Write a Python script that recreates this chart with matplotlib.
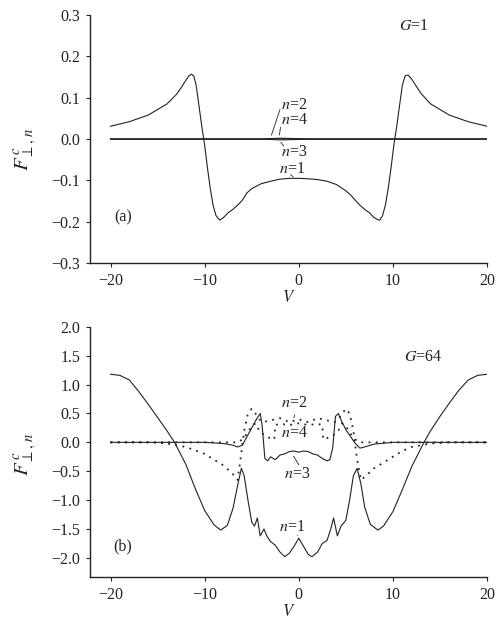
"""Transverse force components F^c_{perp,n} versus V for G=1 and G=64."""

import matplotlib

matplotlib.use("Agg")
from matplotlib import pyplot as plt

# ---- panel (a), G=1 ----
v_a1 = [-20, -18, -16, -14, -13, -12.5, -12, -11.7, -11.4, -11.15, -10.9, -10.6,
        -10.3, -10, -9.7, -9.4, -9.1, -8.8, -8.4, -8, -7.5, -7, -6.5, -6, -5.5,
        -5, -4, -3, -2, -1, 0, 1, 2, 3, 4, 5, 5.5, 6, 6.5, 7, 7.5, 8, 8.4, 8.6,
        8.9, 9.2, 9.5, 9.8, 10.1, 10.4, 10.7, 11.0, 11.3, 11.6, 12, 12.5, 13, 14,
        16, 18, 20]
f_a1 = [0.031, 0.042, 0.058, 0.085, 0.108, 0.124, 0.142, 0.152, 0.157, 0.152,
        0.13, 0.08, 0.03, -0.015, -0.07, -0.12, -0.16, -0.185, -0.196, -0.19,
        -0.178, -0.17, -0.16, -0.148, -0.13, -0.12, -0.108, -0.102, -0.097,
        -0.095, -0.095, -0.096, -0.098, -0.102, -0.11, -0.125, -0.135, -0.148,
        -0.16, -0.17, -0.178, -0.19, -0.195, -0.196, -0.185, -0.16, -0.12, -0.07,
        -0.015, 0.03, 0.08, 0.13, 0.153, 0.155, 0.145, 0.127, 0.11, 0.085,
        0.058, 0.042, 0.031]
v_a_flat = [-20, -4, -3, -2, 0, 2, 20]
f_a2 = [0, 0, 0.001, 0.002, 0.001, 0, 0]
f_a3 = [0, 0, -0.001, -0.002, -0.001, 0, 0]
f_a4 = [0, 0, 0.001, 0.001, 0, 0, 0]

# ---- panel (b), G=64 ----
v_b1 = [-20, -19, -18, -17, -16, -15, -14, -13.2, -12, -11, -10, -9, -8.3, -7.6,
        -7, -6.5, -6.1, -5.8, -5.4, -5.0, -4.7, -4.4, -4.1, -3.7, -3.4, -3.0,
        -2.5, -2.0, -1.5, -1.0, -0.5, 0, 0.5, 1.0, 1.4, 2.0, 2.5, 3.0, 3.4, 3.7,
        4.1, 4.5, 5.0, 5.4, 5.8, 6.2, 6.6, 7.0, 7.6, 8.4, 9, 10, 11, 12, 13.3,
        14, 15, 16, 17, 18, 19, 20]
f_b1 = [1.18, 1.16, 1.08, 0.88, 0.66, 0.43, 0.2, 0.0, -0.38, -0.8, -1.18, -1.43,
        -1.52, -1.44, -1.15, -0.75, -0.45, -0.58, -1.0, -1.38, -1.45, -1.31,
        -1.62, -1.5, -1.62, -1.72, -1.78, -1.9, -1.98, -1.92, -1.8, -1.66, -1.8,
        -1.94, -1.98, -1.9, -1.75, -1.7, -1.5, -1.31, -1.62, -1.45, -1.35, -1.0,
        -0.58, -0.45, -0.72, -1.12, -1.42, -1.52, -1.45, -1.2, -0.82, -0.42, 0.0,
        0.2, 0.45, 0.68, 0.9, 1.08, 1.16, 1.18]

v_b3 = [-20, -10, -8, -7, -6.5, -6.0, -5.5, -5.0, -4.5, -4.1, -3.9, -3.6, -3.3,
        -3.0, -2.5, -2.0, -1.5, -1, -0.5, 0, 0.5, 1, 1.5, 2, 2.5, 3.0, 3.3, 3.6,
        3.9, 4.2, 4.6, 5.0, 5.5, 6.0, 6.5, 7.0, 8, 10, 20]
f_b3 = [0, 0, -0.02, -0.05, -0.08, -0.05, 0.1, 0.25, 0.4, 0.5, 0.3, -0.28, -0.32,
        -0.25, -0.3, -0.22, -0.2, -0.16, -0.15, -0.17, -0.15, -0.16, -0.2, -0.22,
        -0.28, -0.32, -0.3, -0.1, 0.45, 0.5, 0.35, 0.22, 0.1, -0.02, -0.1, -0.08,
        -0.03, 0, 0]

v_b2 = [-20, -16, -14, -12, -10, -8, -7, -6.5, -6.2, -5.8, -5.4, -5.0, -4.6, -4.2,
        -3.8, -3, -2, -1, 0, 1, 2, 3, 3.8, 4.2, 4.6, 5.0, 5.4, 5.8, 6.2, 6.6, 7,
        8, 9, 10, 11, 12, 14, 16, 20]
f_b2 = [0, 0, -0.02, -0.08, -0.2, -0.4, -0.55, -0.65, -0.3, 0.2, 0.5, 0.58, 0.5,
        0.4, 0.35, 0.38, 0.42, 0.35, 0.4, 0.35, 0.42, 0.38, 0.35, 0.4, 0.5, 0.58,
        0.5, 0.2, -0.3, -0.65, -0.6, -0.45, -0.35, -0.25, -0.15, -0.08, -0.02,
        0, 0]

v_b4 = [-20, -8, -6.5, -6.0, -5.5, -5.0, -4.6, -4.2, -3.5, -2.6, -2.5, -2, -1, 0,
        1, 2, 2.5, 2.6, 3.5, 4.2, 4.6, 5.0, 5.5, 6.0, 6.5, 8, 20]
f_b4 = [0, 0, 0, 0.05, 0.15, 0.28, 0.33, 0.2, 0.1, 0.05, 0.3, 0.32, 0.3, 0.33,
        0.3, 0.32, 0.3, 0.05, 0.1, 0.2, 0.33, 0.28, 0.15, 0.05, 0, 0, 0]

x_ticks = [-20, -10, 0, 10, 20]
ya_ticks = [0.3, 0.2, 0.1, 0.0, -0.1, -0.2, -0.3]
yb_ticks = [2.0, 1.5, 1.0, 0.5, 0.0, -0.5, -1.0, -1.5, -2.0]

plt.rcParams["font.family"] = ["Liberation Serif", "DejaVu Serif"]
plt.rcParams["mathtext.fontset"] = "stix"

ink = "#222222"
fig = plt.figure(figsize=(4.99, 6.25), dpi=100)
ax_a = fig.add_axes([0.180, 0.579, 0.796, 0.397])
ax_b = fig.add_axes([0.180, 0.077, 0.796, 0.400])


def style(ax, ylim, yticks):
    ax.set_xlim(-22.2, 20)
    ax.set_ylim(*ylim)
    ax.set_xticks(x_ticks)
    ax.set_xticklabels([str(t).replace("-", "\u2212") for t in x_ticks])
    ax.set_yticks(yticks)
    ax.set_yticklabels([f"{t:.1f}".replace("-", "\u2212") for t in yticks])
    for side in ("top", "right"):
        ax.spines[side].set_visible(False)
    for side in ("left", "bottom"):
        ax.spines[side].set_linewidth(1.0)
        ax.spines[side].set_color(ink)
    ax.tick_params(direction="out", length=3, width=0.8, colors=ink,
                   labelsize=11.5, pad=4)
    ax.set_xlabel("$V$", fontsize=12, color=ink, labelpad=1)


line_kw = dict(color=ink, linewidth=0.8)
dot_kw = dict(color=ink, linewidth=1.3, linestyle=(0, (1, 3)))

# panel (a)
ax_a.plot(v_a_flat, f_a2, **line_kw)
ax_a.plot(v_a_flat, f_a3, **line_kw)
ax_a.plot(v_a_flat, f_a4, **line_kw)
ax_a.plot(v_a1, f_a1, **line_kw)
style(ax_a, (-0.3, 0.3), ya_ticks)
ax_a.set_ylabel(r"$F^{\,c}_{\perp,\,n}$", fontsize=15, color=ink)
ax_a.yaxis.set_label_coords(-0.13, 0.46)

lbl = dict(fontsize=11.5, color=ink, va="center", ha="left")
lead = dict(arrowstyle="-", lw=0.6, color=ink)
ax_a.text(12.2, 0.274, "$G$=1", ha="center", va="center", fontsize=11.5, color=ink)
ax_a.text(-18.7, -0.19, "(a)", ha="center", va="center", fontsize=11.5, color=ink)
ax_a.text(-1.9, 0.082, "$n$=2", **lbl)
ax_a.text(-1.9, 0.047, "$n$=4", **lbl)
ax_a.text(-1.9, -0.031, "$n$=3", **lbl)
ax_a.text(-2.1, -0.072, "$n$=1", **lbl)
ax_a.annotate("", xy=(-3.0, 0.003), xytext=(-1.9, 0.078), arrowprops=lead)
ax_a.annotate("", xy=(-2.1, 0.003), xytext=(-1.9, 0.035), arrowprops=lead)
ax_a.annotate("", xy=(-2.1, -0.003), xytext=(-1.4, -0.022), arrowprops=lead)
ax_a.annotate("", xy=(-0.35, -0.096), xytext=(-1.1, -0.082), arrowprops=lead)

# panel (b)
ax_b.plot(v_b2, f_b2, **dot_kw)
ax_b.plot(v_b4, f_b4, **dot_kw)
ax_b.plot(v_b3, f_b3, **line_kw)
ax_b.plot(v_b1, f_b1, **line_kw)
style(ax_b, (-2.33, 2.0), yb_ticks)
ax_b.set_ylabel(r"$F^{\,c}_{\perp,\,n}$", fontsize=15, color=ink)
ax_b.yaxis.set_label_coords(-0.13, 0.49)

ax_b.text(13.2, 1.48, "$G$=64", ha="center", va="center", fontsize=11.5, color=ink)
ax_b.text(-18.7, -1.8, "(b)", ha="center", va="center", fontsize=11.5, color=ink)
ax_b.text(-1.9, 0.69, "$n$=2", **lbl)
ax_b.text(-1.9, 0.155, "$n$=4", **lbl)
ax_b.text(-1.55, -0.55, "$n$=3", **lbl)
ax_b.text(-2.1, -1.47, "$n$=1", **lbl)
ax_b.annotate("", xy=(-0.6, 0.38), xytext=(-0.36, 0.52), arrowprops=lead)
ax_b.annotate("", xy=(-0.7, -0.2), xytext=(0.15, -0.43), arrowprops=lead)
ax_b.annotate("", xy=(0.0, -1.66), xytext=(-0.25, -1.57), arrowprops=lead)

fig.savefig("out.png", dpi=100)
